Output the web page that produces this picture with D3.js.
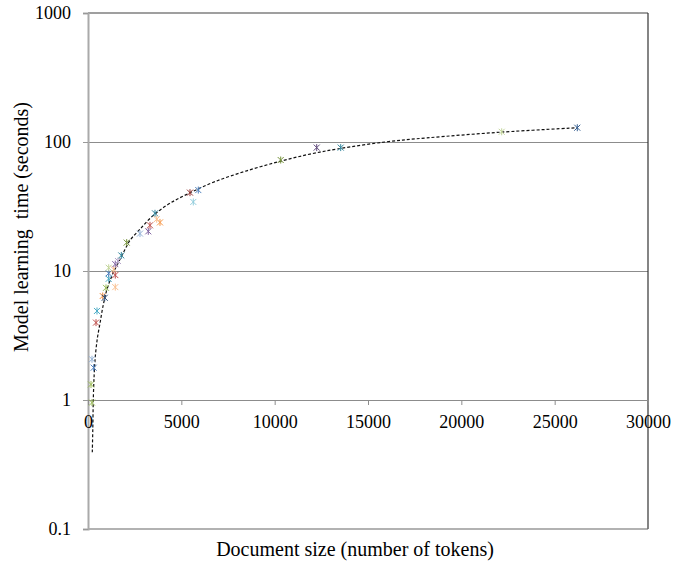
<!DOCTYPE html>
<html>
<head>
<meta charset="utf-8">
<title>Model learning time</title>
<script type="text/javascript" src="https://cdnjs.cloudflare.com/ajax/libs/d3/7.8.5/d3.min.js"></script>
<style>
  body { margin: 0; background: #fff; }
  text { font-family: "Liberation Serif", "Times New Roman", serif; fill: #000; }
</style>
</head>
<body>
<script type="text/javascript">

// Data: document size (tokens) and learning time (s)
var tokens  = [161, 214, 214, 305, 429, 482, 787, 895, 964, 1109, 1109, 1109, 1377, 1462, 1462, 1462, 1607,
               1784, 2073, 2786, 3230, 3321, 3589, 3857, 3680, 5464, 5909, 5641, 10323, 12252, 13538, 22162, 26212]
var seconds = [1.32, 0.955, 2.07, 1.78, 3.98, 4.9, 6.4, 6.2, 7.4, 8.7, 9.6, 10.6, 10.3, 9.3, 7.5, 11.3, 11.95,
               13.2, 16.6, 19.5, 20.3, 22.6, 28, 23.8, 25.2, 40.5, 42.4, 34.3, 72.5, 90.5, 90.5, 120, 129]

// trend line, points
var trendX = [230, 257, 284, 332, 402, 509, 643, 803, 1018, 1339, 1661, 1982, 2250, 2786, 3500, 4393,
              5464, 6804, 8502, 10286, 11893, 13500, 16002, 18145, 22162, 26196]
var trendY = [0.393, 0.594, 1.01, 1.58, 2.26, 3.06, 3.93, 5.33, 7.21, 9.6, 11.9, 14.7, 17.3, 21.1, 27.0, 33.5,
              40.4, 49.3, 59.8, 70.8, 80.6, 89.0, 100.4, 107.6, 119.3, 128.9]

var xTicks = [0, 5000, 10000, 15000, 20000, 25000, 30000]
var yTicks = [0.1, 1, 10, 100, 1000]

// one colour per point (each point is its own series)
var pointColours = ["#9BBB59", "#9BBB59", "#95B3D7", "#4F81BD", "#C0504D", "#4BACC6", "#F79646", "#2C4D75",
                    "#9BBB59", "#4BACC6", "#4F81BD", "#C3D69B", "#FAC090", "#C0504D", "#FAC090", "#8064A2",
                    "#B3A2C7", "#31859C", "#77933C", "#95B3D7", "#8064A2", "#C0504D", "#31859C", "#F79646",
                    "#FAC090", "#953735", "#4F81BD", "#93CDDD", "#77933C", "#604A7B", "#31859C", "#C3D69B",
                    "#376092"]

var W = 673, H = 563
var margin = {top: 13, right: 25, bottom: 34, left: 88}

var svg = d3.select("body").append("svg")
    .attr("width", W)
    .attr("height", H)

var x = d3.scaleLinear()
    .domain([0, 30000])
    .range([margin.left, W - margin.right])

var y = d3.scaleLog()
    .domain([0.1, 1000])
    .range([H - margin.bottom, margin.top])

// gridlines at 10 and 100
svg.append("g")
    .selectAll("line")
    .data([10, 100])
    .enter()
    .append("line")
    .attr("x1", x(0))
    .attr("x2", x(30000))
    .attr("y1", function(d){ return y(d) + 0.5 })
    .attr("y2", function(d){ return y(d) + 0.5 })
    .style("stroke", "#8c8c8c")
    .style("stroke-width", 1)

// plot border: top, right, bottom
svg.append("line")
    .attr("x1", x(0)).attr("x2", x(30000))
    .attr("y1", y(1000)).attr("y2", y(1000))
    .style("stroke", "#404040").style("stroke-width", 1.2)
svg.append("line")
    .attr("x1", x(30000)).attr("x2", x(30000))
    .attr("y1", y(1000)).attr("y2", y(0.1))
    .style("stroke", "#333").style("stroke-width", 1.2)
svg.append("line")
    .attr("x1", x(0)).attr("x2", x(30000))
    .attr("y1", y(0.1)).attr("y2", y(0.1))
    .style("stroke", "#666").style("stroke-width", 1.2)

// y axis
var yAxis = svg.append("g")
    .attr("transform", "translate(" + x(0) + ",0)")
    .call(d3.axisLeft(y)
        .tickValues(yTicks)
        .tickFormat(function(d){ return d })
        .tickSize(5)
        .tickPadding(12))
yAxis.select(".domain").style("stroke", "#aaa").style("stroke-width", 2)
yAxis.selectAll(".tick line").style("stroke", "#999")
yAxis.selectAll("text").style("font-size", "18px")

// x axis crossing at y = 1
var xAxis = svg.append("g")
    .attr("transform", "translate(0," + y(1) + ")")
    .call(d3.axisBottom(x)
        .tickValues(xTicks)
        .tickFormat(function(d){ return d })
        .tickSize(5))
xAxis.select(".domain").style("stroke", "#8c8c8c")
xAxis.selectAll(".tick line").style("stroke", "#8c8c8c")
xAxis.selectAll("text")
    .attr("y", 28)
    .attr("dy", 0)
    .style("font-size", "18px")

// dashed trend line
var trend = trendX.map(function(d, i){ return [d, trendY[i]] })
var line = d3.line()
    .x(function(d){ return x(d[0]) })
    .y(function(d){ return y(d[1]) })
    .curve(d3.curveCatmullRom.alpha(0.5))

svg.append("path")
    .datum(trend)
    .attr("d", line)
    .style("fill", "none")
    .style("stroke", "#111")
    .style("stroke-width", 1.2)
    .style("stroke-dasharray", "3,2")

// star markers
var points = tokens.map(function(d, i){ return {t: d, s: seconds[i], c: pointColours[i]} })
var r = 3
var marks = svg.append("g")
    .selectAll("path")
    .data(points)
    .enter()
    .append("path")
    .attr("transform", function(d){ return "translate(" + x(d.t) + "," + y(d.s) + ")" })
    .attr("d", "M" + (-r) + "," + (-r) + "L" + r + "," + r +
               "M" + (-r) + "," + r + "L" + r + "," + (-r) +
               "M0," + (-r - 0.5) + "L0," + (r + 0.5))
    .style("fill", "none")
    .style("stroke", function(d){ return d.c })
    .style("stroke-width", 1)

// axis titles
svg.append("text")
    .attr("transform", "translate(21,227) rotate(-90)")
    .attr("text-anchor", "middle")
    .attr("dy", "0.35em")
    .attr("xml:space", "preserve")
    .style("white-space", "pre")
    .style("font-size", "20px")
    .text("Model learning  time (seconds)")

svg.append("text")
    .attr("x", 355)
    .attr("y", 556)
    .attr("text-anchor", "middle")
    .style("font-size", "20px")
    .text("Document size (number of tokens)")

</script>
</body>
</html>
